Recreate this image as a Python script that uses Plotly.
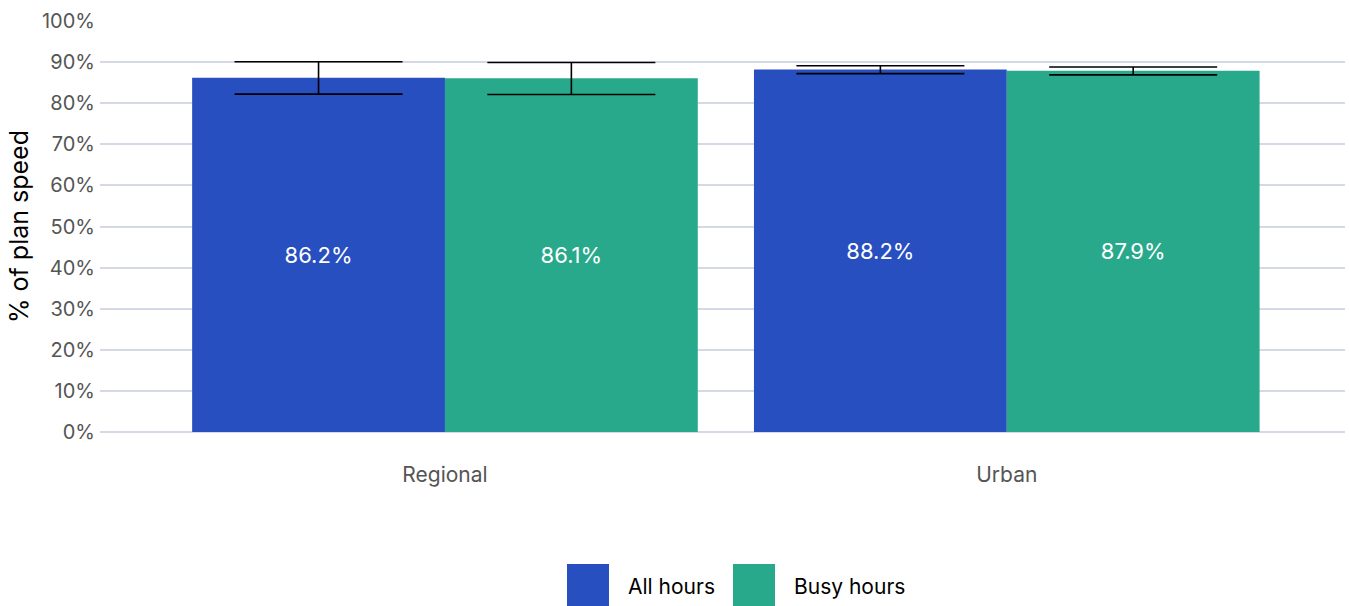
import plotly.graph_objects as go

categories = ["Regional", "Urban"]
series_names = ["All hours", "Busy hours"]
all_hours = [86.2, 88.2]
busy_hours = [86.1, 87.9]
all_hi = [90.1, 89.1]
all_lo = [82.2, 87.2]
busy_hi = [89.9, 88.8]
busy_lo = [82.1, 86.9]
colors = ["#284fbf", "#29a98b"]
y_ticks = list(range(0, 101, 10))
y_tick_labels = [f"{v}%" for v in y_ticks]

fig = go.Figure()
for name, vals, hi, lo, col in [
    (series_names[0], all_hours, all_hi, all_lo, colors[0]),
    (series_names[1], busy_hours, busy_hi, busy_lo, colors[1]),
]:
    fig.add_trace(go.Bar(
        x=categories, y=vals, name=name,
        marker=dict(color=col, line=dict(width=0)),
        texttemplate="%{y:.1f}%", textposition="inside", insidetextanchor="middle",
        textfont=dict(color="white", size=22, family="Inter"),
        error_y=dict(type="data", symmetric=False,
                     array=[h - v for h, v in zip(hi, vals)],
                     arrayminus=[v - l for v, l in zip(vals, lo)],
                     color="black", thickness=1.6, width=84),
        showlegend=False,
    ))

fig.update_layout(
    width=1349, height=606,
    margin=dict(l=100, r=4, t=21, b=174, autoexpand=False),
    paper_bgcolor="white", plot_bgcolor="white",
    barmode="group", bargap=0.1, bargroupgap=0,
    font=dict(family="Inter", color="#555555"),
    xaxis=dict(range=[-0.614, 1.602], showgrid=False, zeroline=False, automargin=False,
               tickfont=dict(size=21, color="#555555"), ticklabelstandoff=28,
               showline=False, ticks=""),
    yaxis=dict(range=[0, 100], tickvals=y_ticks, ticktext=y_tick_labels, automargin=False,
               tickfont=dict(size=20, color="#555555"), ticklabelstandoff=4,
               gridcolor="#d5d9e6", gridwidth=2.4, zeroline=True, zerolinecolor="#d5d9e6",
               zerolinewidth=2.4, showline=False, ticks="",
               title=dict(text="% of plan speed", font=dict(size=25, color="black"), standoff=6)),
    showlegend=False,
)

# custom legend with large square swatches
legend_items = [(series_names[0], colors[0], 567, 626), (series_names[1], colors[1], 733, 792)]
for name, col, x0, tx in legend_items:
    fig.add_shape(type="rect", xref="paper", yref="paper",
                  x0=(x0 - 100) / 1245, x1=(x0 + 42 - 100) / 1245,
                  y0=(432 - 606) / 411, y1=(432 - 564) / 411,
                  fillcolor=col, line=dict(width=0))
    fig.add_annotation(xref="paper", yref="paper", x=(tx - 100) / 1245, y=(432 - 586) / 411,
                       text=name, showarrow=False, xanchor="left", yanchor="middle",
                       font=dict(size=21, color="black", family="Inter"))

fig.write_html("out.html", config={"displayModeBar": False},
               post_script="document.body.style.margin='0';document.body.style.overflow='hidden';")
